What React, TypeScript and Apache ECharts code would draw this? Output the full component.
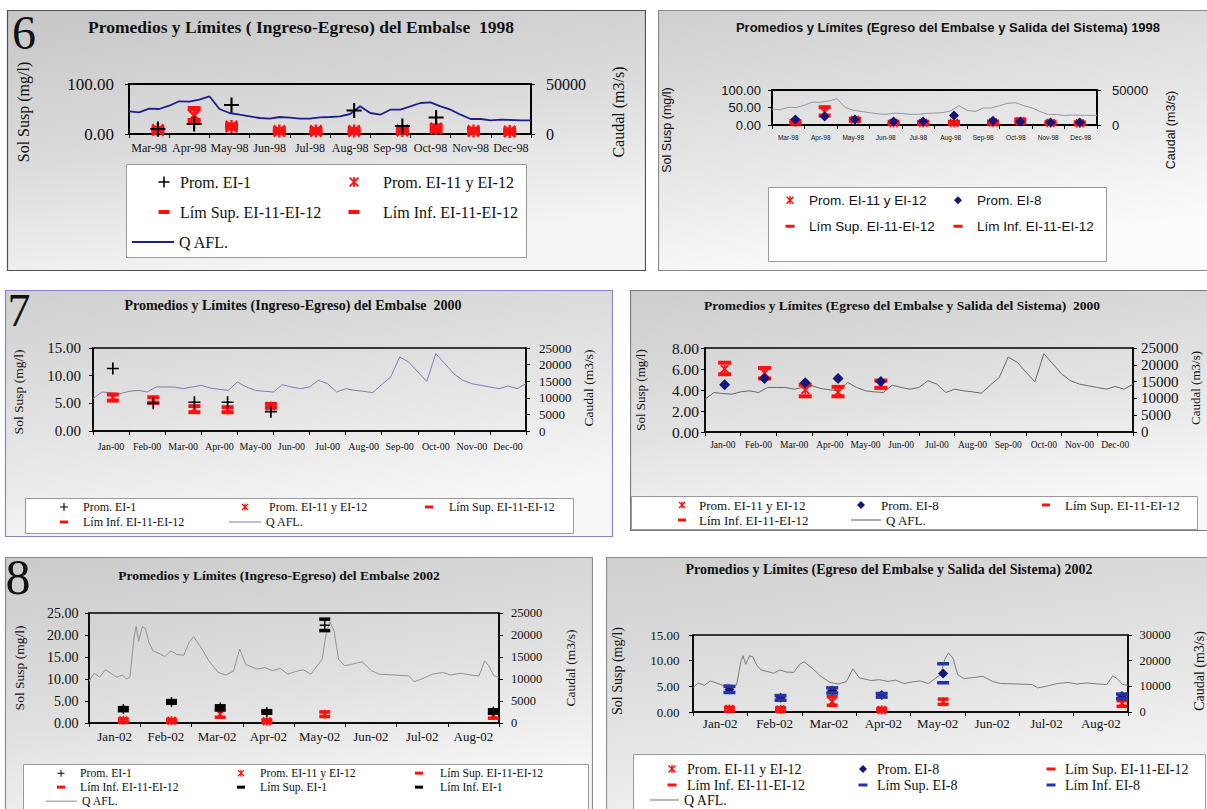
import React, { useEffect, useRef } from "react";
import * as echarts from "echarts";

const SERIF = '"Liberation Serif", "Times New Roman", Times, serif';
const SANS = '"Liberation Sans", Arial, Helvetica, sans-serif';
const RED = "#ff1010";
const BLACK = "#000000";
const NAVY = "#15157a";
const BLUE8 = "#2434a4";

// ---------------- categories (tick labels) ----------------
const months98 = ["Mar-98", "Apr-98", "May-98", "Jun-98", "Jul-98", "Aug-98", "Sep-98", "Oct-98", "Nov-98", "Dec-98"];
const months00 = ["Jan-00", "Feb-00", "Mar-00", "Apr-00", "May-00", "Jun-00", "Jul-00", "Aug-00", "Sep-00", "Oct-00", "Nov-00", "Dec-00"];
const months02 = ["Jan-02", "Feb-02", "Mar-02", "Apr-02", "May-02", "Jun-02", "Jul-02", "Aug-02"];

// ---------------- sampling dates (months from axis start) ----------------
const dates98 = [0.72, 1.62, 2.55, 3.74, 4.65, 5.6, 6.8, 7.64, 8.57, 9.47];
const dates00 = [0.55, 1.67, 2.81, 3.73, 4.93];
const dates02 = [0.67, 1.61, 2.56, 3.47, 4.6, 7.89];

// ---------------- 1998 values (mg/l) ----------------
const ei1_98 = [10, 20, 58, null, null, 47, 16, 33, null, null];
const avg98 = [8, 37, 15, 6, 6, 6, 7, 11, 6, 5];
const sup98 = [11, 51, 18, 9, 9, 9, 10, 16, 9, 8];
const inf98 = [5, 27, 12, 3, 3, 3, 4, 7, 3, 2];
const ei8_98 = [16, 24, 16, 10, 10, 27, 12, 10, 7, 7];

// ---------------- 2000 values (mg/l) ----------------
const ei1_00 = [11.3, 5.0, 5.2, 5.2, 3.5];
const avg00 = [6.0, 5.6, 4.0, 3.8, 4.5];
const sup00 = [6.6, 6.1, 4.5, 4.3, 4.9];
const inf00 = [5.5, 5.1, 3.4, 3.4, 4.2];
const ei8_00 = [4.5, 5.1, 4.7, 5.1, 4.8];

// ---------------- 2002 values (mg/l) ----------------
const ei1_02 = [3.2, 4.8, 3.5, 2.5, 22.2, 2.6];
const supEi1_02 = [3.5, 5.1, 3.9, 2.8, 23.6, 3.0];
const infEi1_02 = [2.8, 4.5, 3.0, 2.2, 21.0, 2.2];
const avg02 = [0.6, 0.5, 2.0, 0.4, 2.0, 1.7];
const sup02 = [0.9, 0.8, 3.0, 0.7, 2.5, 2.2];
const inf02 = [0.2, 0.2, 1.3, 0.1, 1.5, 1.1];
const ei8_02 = [4.4, 2.8, 4.2, 3.3, 7.5, 3.1];
const supEi8_02 = [5.0, 3.2, 4.7, 3.6, 9.4, 3.5];
const infEi8_02 = [3.8, 2.3, 3.7, 2.9, 5.7, 2.6];

// ---------------- Q AFL. flows (m3/s) ----------------
// 1998 and 2000: one reading every quarter month
const flow98 = [22700, 21700, 25300, 25000, 28300, 32700, 32300, 34300, 37700, 25000, 21000, 19300, 17700, 16000, 15300, 17000, 16300, 15300, 15300, 16700, 17000, 17700, 20000, 27700, 21000, 19300, 24300, 24300, 27700, 31000, 31700, 27700, 24300, 19300, 15000, 15000, 13700, 14300, 14000, 13700, 13700];
const flow00 = [9740, 11750, 11450, 11250, 11950, 12250, 11750, 13250, 13250, 13250, 12750, 13250, 13750, 12950, 12550, 12250, 14750, 13250, 12250, 11950, 11750, 13950, 13250, 12750, 13250, 15250, 14250, 11750, 12750, 12250, 11950, 11550, 13950, 16250, 22300, 20800, 17800, 14950, 23300, 20300, 17250, 15250, 14250, 13750, 13250, 12750, 13550, 12750, 14250];
// 2002: [month, flow]
const flow02 = [
  [0.0, 9500], [0.1, 11300], [0.21, 10400], [0.32, 12100], [0.43, 11300], [0.54, 10400], [0.65, 10900], [0.73, 10000],
  [0.8, 10500], [0.88, 19600], [0.92, 21900], [0.97, 18600], [1.04, 21900], [1.1, 21500], [1.17, 18300], [1.25, 16400],
  [1.4, 15600], [1.48, 15100], [1.6, 16400], [1.71, 15600], [1.85, 15400], [1.96, 18500], [2.04, 19600], [2.18, 17300],
  [2.34, 14100], [2.52, 11500], [2.67, 10900], [2.82, 11800], [2.94, 16800], [3.06, 13300], [3.28, 12250], [3.43, 12600],
  [3.58, 11900], [3.73, 12400], [3.88, 11100], [4.03, 11700], [4.18, 12100], [4.33, 11100], [4.45, 13000], [4.55, 14500],
  [4.63, 20500], [4.7, 23000], [4.78, 21000], [4.87, 14500], [4.99, 13000], [5.14, 13400], [5.33, 13900], [5.51, 11900],
  [5.66, 11100], [5.97, 10900], [6.24, 10700], [6.34, 9400], [6.46, 9850], [6.7, 11100], [6.9, 11500], [7.06, 10900],
  [7.24, 11300], [7.46, 10900], [7.61, 10700], [7.72, 14100], [7.8, 13000], [7.9, 10700], [8.0, 10400],
];

// ---------------- symbols ----------------
const PLUS = "path://M4.3,0H5.7V4.3H10V5.7H5.7V10H4.3V5.7H0V4.3H4.3Z";
const STAR = "path://M4.1,0H5.9V10H4.1Z M0,1.3L1.3,0L10,8.7L8.7,10Z M8.7,0L10,1.3L1.3,10L0,8.7Z";

const quarterly = (vals: number[]) => vals.map((v, i) => [i * 0.25, v]);
const pts = (dates: number[], vals: (number | null)[]) => {
  const out: number[][] = [];
  dates.forEach((d, i) => {
    const v = vals[i];
    if (v != null) out.push([d, v]);
  });
  return out;
};

function marks(name: string, dates: number[], vals: (number | null)[], symbol: string, size: any, color: string) {
  return {
    type: "scatter",
    name,
    xAxisIndex: 1,
    yAxisIndex: 0,
    symbol,
    symbolSize: size,
    symbolKeepAspect: false,
    itemStyle: { color, opacity: 1 },
    data: pts(dates, vals),
    z: 3,
    silent: true,
  };
}
function flowLine(data: number[][], color: string, width: number) {
  return {
    type: "line",
    name: "Q AFL.",
    xAxisIndex: 1,
    yAxisIndex: 1,
    data,
    symbol: "none",
    showSymbol: false,
    lineStyle: { color, width },
    itemStyle: { color },
    z: 2,
    silent: true,
  };
}

type Box = { x: number; y: number; w: number; h: number };
type LegendItem = { name: string; icon: string; cx: number; cy: number; iw: number; ih: number; tx: number; color?: string };

const flowCol = ["#1e1e8c", "#8f98a8", "#7c7cb8", "#5a5a5a", "#8a8a8a", "#707070"];

const PANELS: any[] = [
  {
    box: { x: 7, y: 10, w: 639, h: 261 }, padL: 7, padT: 10,
    openRight: false, openBottom: false,
    border: "#505050",
    bg: ["#c6c6c6", "#dcdcdc", "#f4f4f4"],
    digit: { text: "6", x: 24, y: 32, size: 48 },
    title: { text: "Promedios y Límites ( Ingreso-Egreso) del Embalse  1998", cx: 301, cy: 27, size: 17.5 },
    font: SERIF,
    grid: { l: 129, t: 84, r: 531, b: 134, bw: 2 },
    months: months98, span: 10,
    yL: { max: 100, interval: 100, size: 17, margin: 15 },
    yR: { max: 50000, interval: 50000, size: 16, margin: 15 },
    xLab: { size: 12, cy: 148 },
    nameL: { x: 23, y: 112 }, nameR: { x: 618, y: 112 }, nameSize: 16,
    legBox: { x: 126, y: 164, w: 400, h: 93 }, legSize: 16,
    legend: [
      { name: "Prom. EI-1", icon: PLUS, cx: 164, cy: 182, iw: 11, ih: 11, tx: 180 },
      { name: "Prom. EI-11 y EI-12", icon: STAR, cx: 354, cy: 182, iw: 10, ih: 10, tx: 383 },
      { name: "Lím Sup. EI-11-EI-12", icon: "rect", cx: 164, cy: 212, iw: 11, ih: 4, tx: 180 },
      { name: "Lím Inf. EI-11-EI-12", icon: "rect", cx: 354, cy: 212, iw: 11, ih: 4, tx: 383 },
      { name: "Q AFL.", icon: "rect", cx: 153, cy: 242, iw: 42, ih: 2, tx: 179, color: flowCol[0] },
    ],
    series: [
      flowLine(quarterly(flow98), flowCol[0], 1.8),
      marks("Prom. EI-11 y EI-12", dates98, avg98, STAR, 13, RED),
      marks("Lím Sup. EI-11-EI-12", dates98, sup98, "rect", [13, 5], RED),
      marks("Lím Inf. EI-11-EI-12", dates98, inf98, "rect", [13, 5], RED),
      marks("Prom. EI-1", dates98, ei1_98, PLUS, 15, BLACK),
    ],
  },
  {
    box: { x: 658, y: 10, w: 549, h: 261 }, padL: 0, padT: 0,
    openRight: true, openBottom: false,
    border: "#8a8a8a",
    bg: ["#cfcfcf", "#e6e6e6", "#fbfbfb"],
    title: { text: "Promedios y Límites (Egreso del Embalse y Salida del Sistema) 1998", cx: 948, cy: 27, size: 13 },
    font: SANS,
    grid: { l: 772, t: 90, r: 1097, b: 125, bw: 2 },
    months: months98, span: 10,
    yL: { max: 100, interval: 50, size: 13, margin: 11 },
    yR: { max: 50000, interval: 50000, size: 13, margin: 15 },
    xLab: { size: 6.5, cy: 137 },
    nameL: { x: 667, y: 130 }, nameR: { x: 1171, y: 130 }, nameSize: 12.5,
    legBox: { x: 768, y: 187, w: 338, h: 74 }, legSize: 13.5,
    legend: [
      { name: "Prom. EI-11 y EI-12", icon: STAR, cx: 790, cy: 200, iw: 8, ih: 8, tx: 809 },
      { name: "Prom. EI-8", icon: "diamond", cx: 958, cy: 200, iw: 8, ih: 8, tx: 977 },
      { name: "Lím Sup. EI-11-EI-12", icon: "rect", cx: 790, cy: 226, iw: 9, ih: 3, tx: 809 },
      { name: "Lím Inf. EI-11-EI-12", icon: "rect", cx: 958, cy: 226, iw: 9, ih: 3, tx: 977 },
    ],
    series: [
      flowLine(quarterly(flow98), flowCol[1], 1),
      marks("Prom. EI-11 y EI-12", dates98, avg98, STAR, 9, RED),
      marks("Lím Sup. EI-11-EI-12", dates98, sup98, "rect", [12, 4], RED),
      marks("Lím Inf. EI-11-EI-12", dates98, inf98, "rect", [12, 4], RED),
      marks("Prom. EI-8", dates98, ei8_98, "diamond", 10, NAVY),
    ],
  },
  {
    box: { x: 5, y: 290, w: 608, h: 247 }, padL: 5, padT: 12,
    openRight: false, openBottom: false,
    border: "#8585c8",
    bg: ["#cfcfcf", "#e4e4e4", "#f7f7f7"],
    digit: { text: "7", x: 19, y: 310, size: 46 },
    title: { text: "Promedios y Límites (Ingreso-Egreso) del Embalse  2000", cx: 293, cy: 305, size: 14 },
    font: SERIF,
    grid: { l: 93, t: 348, r: 526, b: 431, bw: 1.5 },
    months: months00, span: 12,
    yL: { max: 15, interval: 5, size: 15, margin: 12 },
    yR: { max: 25000, interval: 5000, size: 13, margin: 13 },
    xLab: { size: 10, cy: 446 },
    nameL: { x: 18, y: 392 }, nameR: { x: 588, y: 388 }, nameSize: 13.5,
    legBox: { x: 25, y: 498, w: 548, h: 35 }, legSize: 12,
    legend: [
      { name: "Prom. EI-1", icon: PLUS, cx: 64, cy: 507, iw: 8, ih: 8, tx: 83 },
      { name: "Prom. EI-11 y EI-12", icon: STAR, cx: 245, cy: 507, iw: 7, ih: 7, tx: 269 },
      { name: "Lím Sup. EI-11-EI-12", icon: "rect", cx: 429, cy: 507, iw: 8, ih: 3, tx: 449 },
      { name: "Lím Inf. EI-11-EI-12", icon: "rect", cx: 64, cy: 522, iw: 8, ih: 3, tx: 83 },
      { name: "Q AFL.", icon: "rect", cx: 245, cy: 522, iw: 32, ih: 1, tx: 264, color: flowCol[2] },
    ],
    series: [
      flowLine(quarterly(flow00), flowCol[2], 1),
      marks("Prom. EI-11 y EI-12", dates00, avg00, STAR, 9, RED),
      marks("Lím Sup. EI-11-EI-12", dates00, sup00, "rect", [12, 4], RED),
      marks("Lím Inf. EI-11-EI-12", dates00, inf00, "rect", [12, 4], RED),
      marks("Prom. EI-1", dates00, ei1_00, PLUS, 12, BLACK),
    ],
  },
  {
    box: { x: 630, y: 290, w: 577, h: 241 }, padL: 0, padT: 0,
    openRight: true, openBottom: false,
    border: "#7a7a7a",
    bg: ["#cdcdcd", "#e2e2e2", "#f7f7f7"],
    title: { text: "Promedios y Límites (Egreso del Embalse y Salida del Sistema)  2000", cx: 902, cy: 305, size: 13.5 },
    font: SERIF,
    grid: { l: 705, t: 348, r: 1133, b: 432, bw: 1.5 },
    months: months00, span: 12,
    yL: { max: 8, interval: 2, size: 15.5, margin: 6 },
    yR: { max: 25000, interval: 5000, size: 15, margin: 8 },
    xLab: { size: 9.5, cy: 445 },
    nameL: { x: 640, y: 390 }, nameR: { x: 1195, y: 388 }, nameSize: 13,
    legBox: { x: 631, y: 496, w: 566, h: 33 }, legSize: 13,
    legend: [
      { name: "Prom. EI-11 y EI-12", icon: STAR, cx: 682, cy: 505, iw: 7, ih: 7, tx: 699 },
      { name: "Prom. EI-8", icon: "diamond", cx: 861, cy: 505, iw: 8, ih: 8, tx: 881 },
      { name: "Lím Sup. EI-11-EI-12", icon: "rect", cx: 1046, cy: 505, iw: 8, ih: 3, tx: 1065 },
      { name: "Lím Inf. EI-11-EI-12", icon: "rect", cx: 682, cy: 520, iw: 8, ih: 3, tx: 699 },
      { name: "Q AFL.", icon: "rect", cx: 866, cy: 520, iw: 30, ih: 1, tx: 884, color: flowCol[3] },
    ],
    series: [
      flowLine(quarterly(flow00), flowCol[3], 0.9),
      marks("Prom. EI-11 y EI-12", dates00, avg00, STAR, 9, RED),
      marks("Lím Sup. EI-11-EI-12", dates00, sup00, "rect", [13, 4], RED),
      marks("Lím Inf. EI-11-EI-12", dates00, inf00, "rect", [13, 4], RED),
      marks("Prom. EI-8", dates00, ei8_00, "diamond", 11, NAVY),
    ],
  },
  {
    box: { x: 5, y: 557, w: 588, h: 252 }, padL: 5, padT: 12,
    openRight: false, openBottom: true,
    border: "#8c8c8c",
    bg: ["#cacaca", "#e0e0e0", "#f8f8f8"],
    digit: { text: "8", x: 18, y: 577, size: 50 },
    title: { text: "Promedios y Límites (Ingreso-Egreso) del Embalse 2002", cx: 279, cy: 575, size: 13.5 },
    font: SERIF,
    grid: { l: 89, t: 613, r: 499, b: 723, bw: 1.5 },
    months: months02, span: 8,
    yL: { max: 25, interval: 5, size: 14, margin: 10.5 },
    yR: { max: 25000, interval: 5000, size: 12.5, margin: 12 },
    xLab: { size: 13, cy: 736 },
    nameL: { x: 19, y: 668 }, nameR: { x: 570, y: 668 }, nameSize: 13.5,
    legBox: { x: 23, y: 764, w: 565, h: 60 }, legSize: 11.7,
    legend: [
      { name: "Prom. EI-1", icon: PLUS, cx: 61, cy: 773, iw: 7, ih: 7, tx: 80 },
      { name: "Prom. EI-11 y EI-12", icon: STAR, cx: 241, cy: 773, iw: 7, ih: 7, tx: 260 },
      { name: "Lím Sup. EI-11-EI-12", icon: "rect", cx: 419, cy: 773, iw: 8, ih: 3, tx: 440 },
      { name: "Lím Inf. EI-11-EI-12", icon: "rect", cx: 61, cy: 787, iw: 8, ih: 3, tx: 80 },
      { name: "Lím Sup. EI-1", icon: "rect", cx: 241, cy: 787, iw: 8, ih: 3, tx: 260 },
      { name: "Lím Inf. EI-1", icon: "rect", cx: 419, cy: 787, iw: 8, ih: 3, tx: 440 },
      { name: "Q AFL.", icon: "rect", cx: 61.5, cy: 801, iw: 31, ih: 1, tx: 80, color: flowCol[4] },
    ],
    series: [
      flowLine(flow02, flowCol[4], 0.9),
      marks("Prom. EI-11 y EI-12", dates02, avg02, STAR, 9, RED),
      marks("Lím Sup. EI-11-EI-12", dates02, sup02, "rect", [11, 3.5], RED),
      marks("Lím Inf. EI-11-EI-12", dates02, inf02, "rect", [11, 3.5], RED),
      marks("Prom. EI-1", dates02, ei1_02, PLUS, 10, BLACK),
      marks("Lím Sup. EI-1", dates02, supEi1_02, "rect", [11, 3.5], BLACK),
      marks("Lím Inf. EI-1", dates02, infEi1_02, "rect", [11, 3.5], BLACK),
    ],
  },
  {
    box: { x: 606, y: 557, w: 601, h: 252 }, padL: 0, padT: 0,
    openRight: true, openBottom: true,
    border: "#8c8c8c",
    bg: ["#cfcfcf", "#e3e3e3", "#f7f7f7"],
    title: { text: "Promedios y Límites (Egreso del Embalse y Salida del Sistema) 2002", cx: 889, cy: 569, size: 14 },
    font: SERIF,
    grid: { l: 693, t: 635, r: 1128, b: 712, bw: 1.5 },
    months: months02, span: 8,
    yL: { max: 15, interval: 5, size: 13, margin: 13.5 },
    yR: { max: 30000, interval: 10000, size: 12.5, margin: 11.5 },
    xLab: { size: 13, cy: 723 },
    nameL: { x: 617, y: 671 }, nameR: { x: 1199, y: 671 }, nameSize: 14,
    legBox: { x: 633, y: 754, w: 572, h: 60 }, legSize: 14,
    legend: [
      { name: "Prom. EI-11 y EI-12", icon: STAR, cx: 672, cy: 769, iw: 8, ih: 8, tx: 687 },
      { name: "Prom. EI-8", icon: "diamond", cx: 863, cy: 769, iw: 8, ih: 8, tx: 877 },
      { name: "Lím Sup. EI-11-EI-12", icon: "rect", cx: 1051, cy: 769, iw: 9, ih: 3, tx: 1065 },
      { name: "Lím Inf. EI-11-EI-12", icon: "rect", cx: 672, cy: 785, iw: 9, ih: 3, tx: 687 },
      { name: "Lím Sup. EI-8", icon: "rect", cx: 863, cy: 785, iw: 9, ih: 3, tx: 877 },
      { name: "Lím Inf. EI-8", icon: "rect", cx: 1051, cy: 785, iw: 9, ih: 3, tx: 1065 },
      { name: "Q AFL.", icon: "rect", cx: 664.5, cy: 800, iw: 29, ih: 1, tx: 683, color: flowCol[5] },
    ],
    series: [
      flowLine(flow02, flowCol[5], 0.9),
      marks("Prom. EI-11 y EI-12", dates02, avg02, STAR, 9, RED),
      marks("Lím Sup. EI-11-EI-12", dates02, sup02, "rect", [11, 3.5], RED),
      marks("Lím Inf. EI-11-EI-12", dates02, inf02, "rect", [11, 3.5], RED),
      marks("Prom. EI-8", dates02, ei8_02, "diamond", 10, NAVY),
      marks("Lím Sup. EI-8", dates02, supEi8_02, "rect", [12, 3.5], BLUE8),
      marks("Lím Inf. EI-8", dates02, infEi8_02, "rect", [12, 3.5], BLUE8),
    ],
  },
];

let measureCtx: CanvasRenderingContext2D | null = null;
function measure(text: string, font: string, size: number) {
  if (!measureCtx) measureCtx = document.createElement("canvas").getContext("2d");
  if (!measureCtx) return text.length * size * 0.5;
  measureCtx.font = font;
  return measureCtx.measureText(text).width;
}

function frameOf(c: any) {
  const b = c.box as Box;
  return { ox: b.x - c.padL, oy: b.y - c.padT, w: b.w + c.padL, h: b.h + c.padT };
}

function buildOption(c: any) {
  const { w: pw, h: ph } = c.box as Box;
  const { ox: px, oy: py } = frameOf(c);
  const g = c.grid;
  const titleFont = `bold ${c.title.size}px ${c.font}`;
  const tw = measure(c.title.text, titleFont, c.title.size);

  const elements: any[] = [
    {
      type: "rect",
      z: -10,
      silent: true,
      shape: {
        x: c.padL + 0.5,
        y: c.padT + 0.5,
        width: pw - 1 + (c.openRight ? 30 : 0),
        height: ph - 1 + (c.openBottom ? 30 : 0),
      },
      style: {
        fill: {
          type: "linear", x: 0, y: 0, x2: 0.35, y2: 1,
          colorStops: [
            { offset: 0, color: c.bg[0] },
            { offset: 0.55, color: c.bg[1] },
            { offset: 1, color: c.bg[2] },
          ],
        },
        stroke: c.border,
        lineWidth: 1.2,
      },
    },
    {
      type: "rect",
      z: 1,
      silent: true,
      shape: { x: c.legBox.x - px + 0.5, y: c.legBox.y - py + 0.5, width: c.legBox.w, height: c.legBox.h },
      style: { fill: "#ffffff", stroke: "#9a9a9a", lineWidth: 1 },
    },
    {
      type: "text",
      z: 5,
      silent: true,
      x: c.nameL.x - px,
      y: c.nameL.y - py,
      rotation: Math.PI / 2,
      style: { text: "Sol Susp (mg/l)", fontSize: c.nameSize, fontFamily: c.font, fill: "#111", align: "center", verticalAlign: "middle" },
    },
    {
      type: "text",
      z: 5,
      silent: true,
      x: c.nameR.x - px,
      y: c.nameR.y - py,
      rotation: Math.PI / 2,
      style: { text: "Caudal (m3/s)", fontSize: c.nameSize, fontFamily: c.font, fill: "#111", align: "center", verticalAlign: "middle" },
    },
  ];
  if (c.digit) {
    elements.push({
      type: "text",
      z: 5,
      silent: true,
      x: c.digit.x - px,
      y: c.digit.y - py,
      style: { text: c.digit.text, fontSize: c.digit.size, fontFamily: SERIF, fill: "#111", align: "center", verticalAlign: "middle" },
    });
  }

  const legends = (c.legend as LegendItem[]).map((it) => ({
    show: true,
    selectedMode: false,
    orient: "horizontal",
    padding: 0,
    itemGap: 0,
    left: it.cx - it.iw / 2 - px,
    top: it.cy - py - Math.max(it.ih, c.legSize) / 2,
    itemWidth: it.iw,
    itemHeight: it.ih,
    data: [{ name: it.name, icon: it.icon }],
    itemStyle: it.color ? { color: it.color, borderWidth: 0 } : { borderWidth: 0 },
    textStyle: {
      fontFamily: c.font,
      fontSize: c.legSize,
      color: "#111",
      padding: [0, 0, 0, Math.max(0, it.tx - (it.cx + it.iw / 2) - 5)],
    },
    z: 4,
  }));

  const axisLine = { show: true, lineStyle: { color: "#000", width: g.bw } };
  const tick = { show: true, length: 4, lineStyle: { color: "#000", width: 1 } };

  return {
    animation: false,
    backgroundColor: "transparent",
    title: {
      text: c.title.text,
      left: c.title.cx - px - tw / 2,
      top: c.title.cy - py - c.title.size / 2,
      padding: 0,
      textStyle: { fontFamily: c.font, fontSize: c.title.size, fontWeight: "bold", color: "#111" },
    },
    graphic: { elements },
    legend: legends,
    grid: {
      left: g.l - px,
      top: g.t - py,
      width: g.r - g.l,
      height: g.b - g.t,
      show: true,
      borderColor: "#000",
      borderWidth: g.bw,
      backgroundColor: "transparent",
      containLabel: false,
      outerBoundsMode: "none",
    },
    xAxis: [
      {
        type: "category",
        data: c.months,
        boundaryGap: true,
        position: "bottom",
        axisLine,
        axisTick: { ...tick, interval: 0 },
        splitLine: { show: false },
        axisLabel: {
          interval: 0,
          hideOverlap: false,
          margin: c.xLab.cy - g.b - c.xLab.size / 2,
          fontSize: c.xLab.size,
          fontFamily: c.font,
          color: "#111",
        },
      },
      { type: "value", min: 0, max: c.span, show: false },
    ],
    yAxis: [
      {
        type: "value",
        position: "left",
        min: 0,
        max: c.yL.max,
        interval: c.yL.interval,
        axisLine,
        axisTick: tick,
        splitLine: { show: false },
        axisLabel: {
          formatter: (v: number) => v.toFixed(2),
          margin: c.yL.margin,
          fontSize: c.yL.size,
          fontFamily: c.font,
          color: "#111",
        },
      },
      {
        type: "value",
        position: "right",
        min: 0,
        max: c.yR.max,
        interval: c.yR.interval,
        axisLine,
        axisTick: tick,
        splitLine: { show: false },
        axisLabel: {
          formatter: (v: number) => String(v),
          margin: c.yR.margin,
          fontSize: c.yR.size,
          fontFamily: c.font,
          color: "#111",
        },
      },
    ],
    series: c.series,
  };
}

export default function App() {
  const refs = useRef<(HTMLDivElement | null)[]>([]);

  useEffect(() => {
    const charts = PANELS.map((p, i) => {
      const el = refs.current[i] as HTMLDivElement;
      const chart = echarts.init(el, undefined, { renderer: "svg" });
      chart.setOption(buildOption(p) as any);
      return chart;
    });
    return () => charts.forEach((ch) => ch.dispose());
  }, []);

  return (
    <div
      style={{
        position: "absolute",
        left: 0,
        top: 0,
        width: 1207,
        height: 809,
        background: "#ffffff",
        overflow: "hidden",
      }}
    >
      {PANELS.map((p, i) => {
        const f = frameOf(p);
        return (
          <div
            key={i}
            ref={(el) => {
              refs.current[i] = el;
            }}
            style={{ position: "absolute", left: f.ox, top: f.oy, width: f.w, height: f.h }}
          />
        );
      })}
    </div>
  );
}
